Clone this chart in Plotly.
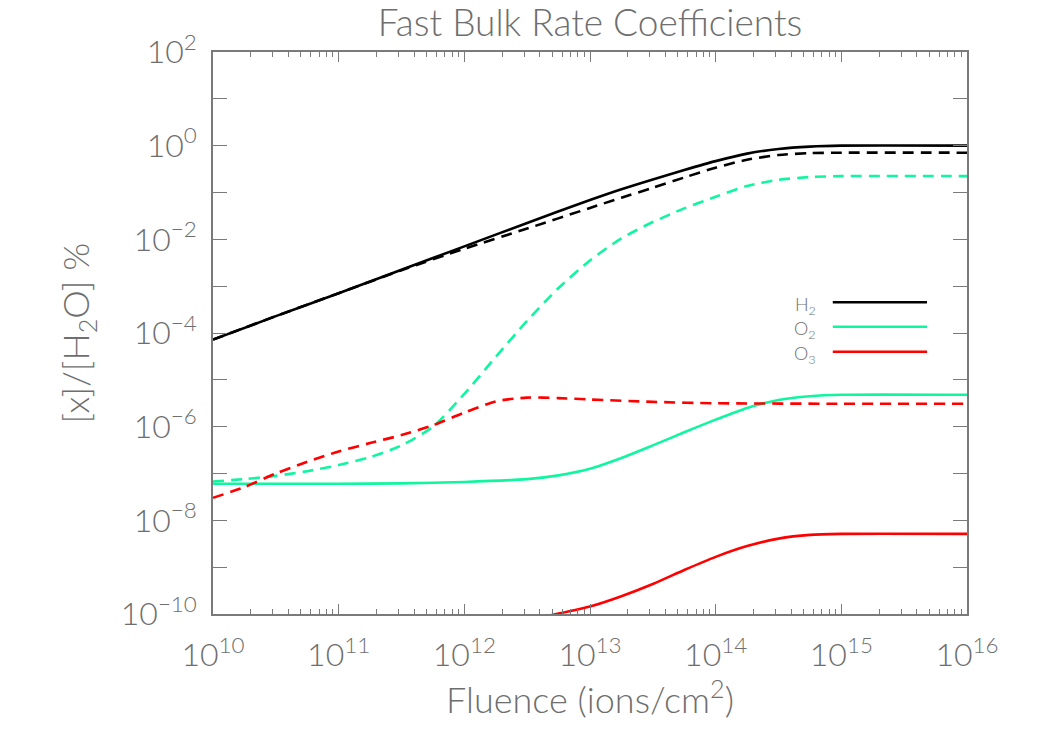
import plotly.graph_objects as go

# log10(fluence) sample points and log10 values
lx_h2 = [10, 10.5, 11, 11.5, 12, 12.5, 13, 13.25, 13.5, 13.75, 14, 14.25, 14.5, 14.75, 15, 16]
h2_solid = [-4.14, -3.64, -3.15, -2.65, -2.15, -1.65, -1.16, -0.93, -0.72, -0.52, -0.33, -0.17,
            -0.07, -0.02, 0.0, 0.0]
h2_dash = [-4.14, -3.64, -3.15, -2.66, -2.20, -1.77, -1.33, -1.11, -0.90, -0.68, -0.47, -0.30,
           -0.20, -0.16, -0.15, -0.15]

lx_o2d = [10, 10.25, 10.5, 10.75, 11, 11.25, 11.5, 11.75, 12, 12.25, 12.5, 12.75, 13, 13.25, 13.5,
          13.75, 14, 14.25, 14.5, 14.75, 15, 16]
o2_dash = [-7.17, -7.12, -7.05, -6.95, -6.82, -6.65, -6.40, -6.00, -5.30, -4.51, -3.74, -3.04, -2.45,
           -1.98, -1.63, -1.34, -1.09, -0.86, -0.73, -0.67, -0.65, -0.65]

lx_o2s = [10, 11, 11.5, 12, 12.5, 12.75, 13, 13.25, 13.5, 13.75, 14, 14.25, 14.5, 14.75, 15, 16]
o2_solid = [-7.22, -7.22, -7.21, -7.18, -7.12, -7.04, -6.90, -6.67, -6.40, -6.12, -5.85, -5.60,
            -5.43, -5.35, -5.32, -5.32]

lx_o3d = [10, 10.25, 10.5, 10.75, 11, 11.25, 11.5, 11.75, 12, 12.25, 12.5, 12.75, 13, 13.5, 14, 15, 16]
o3_dash = [-7.52, -7.29, -7.00, -6.75, -6.53, -6.35, -6.18, -5.97, -5.70, -5.46, -5.38, -5.39, -5.42,
           -5.47, -5.50, -5.51, -5.51]

lx_o3s = [12.25, 12.5, 12.75, 13, 13.25, 13.5, 13.75, 14, 14.25, 14.5, 14.75, 15, 16]
o3_solid = [-10.28, -10.14, -9.99, -9.84, -9.62, -9.36, -9.06, -8.78, -8.55, -8.39, -8.31, -8.29, -8.29]

legend_labels = ["H<sub>2</sub>", "O<sub>2</sub>", "O<sub>3</sub>"]
colors = {"H2": "#000000", "O2": "#10F5A0", "O3": "#FF0000"}

x_tick_exp = [10, 11, 12, 13, 14, 15, 16]
y_label_exp = [-10, -8, -6, -4, -2, 0, 2]
y_minor_exp = [-9, -7, -5, -3, -1, 1]


def pw(v):
    return [10 ** a for a in v]


fig = go.Figure()
series = [
    (lx_h2, h2_solid, colors["H2"], "solid"),
    (lx_h2, h2_dash, colors["H2"], "11px,7px"),
    (lx_o2d, o2_dash, colors["O2"], "11px,7px"),
    (lx_o2s, o2_solid, colors["O2"], "solid"),
    (lx_o3d, o3_dash, colors["O3"], "11px,7px"),
    (lx_o3s, o3_solid, colors["O3"], "solid"),
]
for xs, ys, c, d in series:
    fig.add_trace(go.Scatter(x=pw(xs), y=pw(ys), mode="lines", showlegend=False,
                             line=dict(color=c, width=2.6, dash=d, shape="spline", smoothing=0.7)))

gray = "#7a7a7a"
txt = "#6e6e6e"
ff = "Lato"

fig.update_layout(
    width=1050, height=750,
    paper_bgcolor="white", plot_bgcolor="white",
    margin=dict(l=213, r=83, t=52, b=136),
    title=dict(text="Fast Bulk Rate Coefficients", x=590 / 1050, xanchor="center",
               y=1 - 23 / 750, yanchor="middle",
               font=dict(size=37, color=txt, family=ff, weight=300)),
    font=dict(family=ff, color=txt, weight=300),
)

fig.update_xaxes(
    type="log", range=[10, 16],
    tickvals=[10 ** e for e in x_tick_exp],
    ticktext=["10<sup>%d</sup>" % e for e in x_tick_exp],
    ticks="inside", ticklen=10, tickwidth=1, tickcolor=gray,
    minor=dict(ticks="inside", ticklen=5, tickwidth=1, tickcolor=gray, dtick="D1", showgrid=False),
    showline=True, linecolor=gray, linewidth=1.5, mirror="ticks",
    showgrid=False, zeroline=False,
    tickfont=dict(size=32, color=txt, family=ff, weight=300), ticklabelstandoff=12,
    title=dict(text="Fluence (ions/cm<sup>2</sup>)",
               font=dict(size=36, color=txt, family=ff, weight=300), standoff=10),
)
fig.update_yaxes(
    type="log", range=[-10, 2],
    tickvals=[10 ** e for e in y_label_exp],
    ticktext=["10<sup>%s</sup>" % (str(e).replace("-", "\u2212")) for e in y_label_exp],
    ticks="inside", ticklen=14, tickwidth=1, tickcolor=gray,
    minor=dict(ticks="inside", ticklen=14, tickwidth=1, tickcolor=gray,
               tickvals=[10 ** e for e in y_minor_exp], showgrid=False),
    showline=True, linecolor=gray, linewidth=1.5, mirror="ticks",
    showgrid=False, zeroline=False,
    tickfont=dict(size=32, color=txt, family=ff, weight=300), ticklabelstandoff=8,
    title=dict(text="[x]/[H<sub>2</sub>O] %",
               font=dict(size=36, color=txt, family=ff, weight=300), standoff=20),
)

# manual legend (text left of line sample)
leg_y = [0.5546, 0.5112, 0.4667]
leg_c = [colors["H2"], colors["O2"], colors["O3"]]
for lab, yy, c in zip(legend_labels, leg_y, leg_c):
    fig.add_shape(type="line", xref="paper", yref="paper", x0=0.822, x1=0.947, y0=yy, y1=yy,
                  line=dict(color=c, width=2.6))
    fig.add_annotation(xref="paper", yref="paper", x=0.803, y=yy - 0.005, text=lab, showarrow=False,
                       xanchor="right", yanchor="middle",
                       font=dict(size=18, color=txt, family=ff, weight=300))

fig.write_html("out.html")
